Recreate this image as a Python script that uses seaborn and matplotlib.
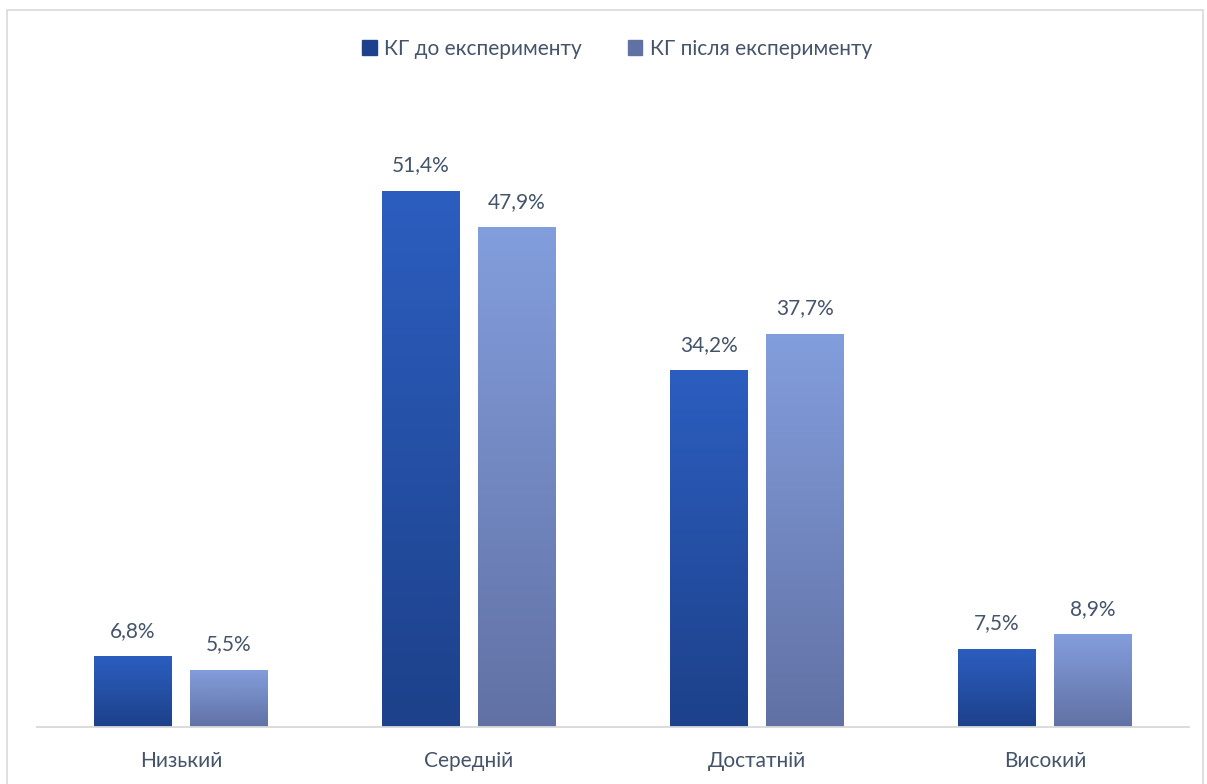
import numpy as np
import pandas as pd
import matplotlib
matplotlib.use("Agg")
import matplotlib.pyplot as plt
import seaborn as sns
from matplotlib.colors import LinearSegmentedColormap
from matplotlib.patches import Rectangle

levels = ["Низький", "Середній", "Достатній", "Високий"]
series_names = ["КГ до експерименту", "КГ після експерименту"]
before = [6.8, 51.4, 34.2, 7.5]
after = [5.5, 47.9, 37.7, 8.9]

top_colors = ["#2C5EC0", "#839EDD"]
bottom_colors = ["#1D418A", "#6171A4"]
text_color = "#44546A"

df = pd.DataFrame({
    "level": levels * 2,
    "group": [series_names[0]] * 4 + [series_names[1]] * 4,
    "value": before + after,
})

sns.set_theme(style="white")
plt.rcParams["font.family"] = ["Lato", "DejaVu Sans"]

fig = plt.figure(figsize=(12.07, 7.84), dpi=100)
W, H = 1207, 784
ax = fig.add_axes([37 / W, (H - 727) / H, 1152 / W, 627 / H])

sns.barplot(data=df, x="level", y="value", hue="group", order=levels,
            hue_order=series_names, palette=top_colors, width=0.667,
            gap=0.19, ax=ax, legend=False, saturation=1)

# vertical gradient fill for each bar, clipped to its rectangle
grad = np.linspace(1, 0, 256).reshape(-1, 1)
for i, container in enumerate(ax.containers):
    cmap = LinearSegmentedColormap.from_list(f"g{i}", [bottom_colors[i], top_colors[i]])
    for bar in container:
        x0, y0 = bar.get_x(), bar.get_y()
        w, h = bar.get_width(), bar.get_height()
        im = ax.imshow(grad, cmap=cmap, aspect="auto", extent=(x0, x0 + w, y0, y0 + h),
                       origin="upper", zorder=bar.get_zorder() + 0.1, vmin=0, vmax=1)
        im.set_clip_path(bar)
        ax.annotate(f"{h:.1f}%".replace(".", ","), (x0 + w / 2, y0 + h),
                    xytext=(0, 11), textcoords="offset points", ha="center", va="bottom",
                    fontsize=15, color=text_color)

ax.set_xlim(-0.5, 3.5)
ax.set_ylim(0, 60.1)

for s in ["top", "right", "left"]:
    ax.spines[s].set_visible(False)
ax.spines["bottom"].set_color("#D9D9D9")
ax.spines["bottom"].set_linewidth(1.3)
ax.set_yticks([])
ax.set_xlabel("")
ax.set_ylabel("")
ax.tick_params(axis="x", length=0, pad=17, labelsize=15, labelcolor=text_color)

# legend
handles = [Rectangle((0, 0), 1, 1, color=c) for c in [bottom_colors[0], bottom_colors[1]]]
leg = fig.legend(handles, series_names, loc="center", bbox_to_anchor=(617 / W, 1 - 49 / H),
                 ncol=2, frameon=False, fontsize=15, handlelength=0.7, handleheight=0.7,
                 handletextpad=0.35, columnspacing=2.2)
for t in leg.get_texts():
    t.set_color(text_color)

# chart area border
fig.patches.append(Rectangle((7 / W, -0.05), 1196 / W, 1.05 - 10 / H, transform=fig.transFigure,
                             fill=False, edgecolor="#D9D9D9", linewidth=1.2))

fig.savefig("out.png", dpi=100)
